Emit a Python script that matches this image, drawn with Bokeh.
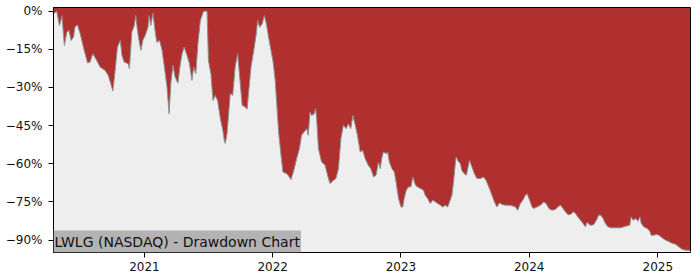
import pandas as pd
from bokeh.plotting import figure
from bokeh.models import FixedTicker, Label, DatetimeTickFormatter, Range1d
from bokeh.embed import file_html
from bokeh.resources import INLINE

dates = [
    "2020-04-17", "2020-04-26", "2020-05-04", "2020-05-08", "2020-05-11", "2020-05-18", "2020-05-25", "2020-05-31",
    "2020-06-06", "2020-06-13", "2020-06-17", "2020-06-24", "2020-07-02", "2020-07-11", "2020-07-23", "2020-07-30",
    "2020-08-07", "2020-08-18", "2020-08-28", "2020-09-11", "2020-09-20", "2020-09-27", "2020-10-03", "2020-10-09",
    "2020-10-16", "2020-10-24", "2020-10-29", "2020-11-04", "2020-11-16", "2020-11-19", "2020-11-26", "2020-12-03",
    "2020-12-07", "2020-12-12", "2020-12-18", "2020-12-22", "2020-12-27", "2021-01-03", "2021-01-11", "2021-01-14",
    "2021-01-19", "2021-01-25", "2021-01-31", "2021-02-05", "2021-02-13", "2021-02-20", "2021-02-26", "2021-03-06",
    "2021-03-12", "2021-03-17", "2021-03-23", "2021-03-29", "2021-04-06", "2021-04-13", "2021-04-18", "2021-04-24",
    "2021-05-02", "2021-05-09", "2021-05-16", "2021-05-21", "2021-05-27", "2021-06-02", "2021-06-09", "2021-06-18",
    "2021-06-28", "2021-07-02", "2021-07-09", "2021-07-15", "2021-07-21", "2021-07-28", "2021-08-05", "2021-08-12",
    "2021-08-16", "2021-08-19", "2021-08-24", "2021-09-02", "2021-09-09", "2021-09-16", "2021-09-23", "2021-09-29",
    "2021-10-06", "2021-10-15", "2021-10-20", "2021-10-24", "2021-10-31", "2021-11-08", "2021-11-15", "2021-11-19",
    "2021-11-25", "2021-12-02", "2021-12-08", "2021-12-14", "2021-12-20", "2021-12-27", "2022-01-02", "2022-01-08",
    "2022-01-13", "2022-01-18", "2022-01-23", "2022-01-30", "2022-02-11", "2022-02-22", "2022-03-02", "2022-03-10",
    "2022-03-18", "2022-03-24", "2022-03-31", "2022-04-08", "2022-04-12", "2022-04-17", "2022-04-22", "2022-04-29",
    "2022-05-03", "2022-05-06", "2022-05-11", "2022-05-20", "2022-05-30", "2022-06-06", "2022-06-13", "2022-06-23",
    "2022-06-30", "2022-07-07", "2022-07-14", "2022-07-21", "2022-07-29", "2022-08-04", "2022-08-11", "2022-08-17",
    "2022-08-24", "2022-08-30", "2022-09-07", "2022-09-14", "2022-09-21", "2022-09-30", "2022-10-07", "2022-10-15",
    "2022-10-22", "2022-10-29", "2022-11-03", "2022-11-07", "2022-11-12", "2022-11-20", "2022-11-24", "2022-11-29",
    "2022-12-06", "2022-12-13", "2022-12-18", "2022-12-25", "2023-01-01", "2023-01-06", "2023-01-10", "2023-01-16",
    "2023-01-22", "2023-01-29", "2023-02-04", "2023-02-11", "2023-02-17", "2023-02-25", "2023-03-06", "2023-03-11",
    "2023-03-18", "2023-03-25", "2023-04-02", "2023-04-09", "2023-04-15", "2023-04-23", "2023-04-30", "2023-05-07",
    "2023-05-14", "2023-05-19", "2023-05-26", "2023-05-31", "2023-06-05", "2023-06-07", "2023-06-14", "2023-06-19",
    "2023-06-23", "2023-06-30", "2023-07-06", "2023-07-10", "2023-07-15", "2023-07-22", "2023-07-29", "2023-08-05",
    "2023-08-15", "2023-08-24", "2023-08-31", "2023-09-08", "2023-09-17", "2023-09-24", "2023-10-01", "2023-10-09",
    "2023-10-15", "2023-10-25", "2023-11-04", "2023-11-13", "2023-11-23", "2023-11-29", "2023-12-07", "2023-12-14",
    "2023-12-21", "2023-12-26", "2024-01-02", "2024-01-09", "2024-01-14", "2024-01-23", "2024-02-02", "2024-02-11",
    "2024-02-18", "2024-02-26", "2024-03-06", "2024-03-16", "2024-03-22", "2024-03-30", "2024-04-06", "2024-04-13",
    "2024-04-20", "2024-04-27", "2024-05-05", "2024-05-12", "2024-05-18", "2024-05-26", "2024-06-02", "2024-06-09",
    "2024-06-14", "2024-06-19", "2024-06-25", "2024-07-03", "2024-07-10", "2024-07-17", "2024-07-22", "2024-07-29",
    "2024-08-05", "2024-08-12", "2024-08-21", "2024-08-29", "2024-09-07", "2024-09-17", "2024-09-26", "2024-10-06",
    "2024-10-13", "2024-10-17", "2024-10-23", "2024-10-30", "2024-11-05", "2024-11-11", "2024-11-15", "2024-11-22",
    "2024-12-02", "2024-12-09", "2024-12-13", "2024-12-21", "2024-12-28", "2025-01-04", "2025-01-13", "2025-01-23",
    "2025-02-01", "2025-02-11", "2025-02-21", "2025-03-02", "2025-03-11", "2025-03-21", "2025-03-31", "2025-04-04",
]

drawdown = [
    -1.0, 0.0, -5.6, -3.7, -1.8, -13.5, -8.2, -7.6,
    -11.5, -10.2, -6.3, -5.3, -8.9, -14.1, -20.4, -20.0,
    -16.7, -19.4, -22.0, -23.3, -25.3, -28.5, -31.4, -23.9,
    -14.1, -11.5, -17.4, -20.0, -20.7, -22.6, -8.2, -5.6,
    -1.7, -7.6, -12.8, -15.4, -11.5, -9.5, -6.3, -1.7,
    -5.6, -0.8, -7.6, -12.2, -11.5, -15.4, -21.3, -29.8,
    -40.3, -28.3, -21.3, -25.9, -28.3, -20.7, -16.7, -14.1,
    -17.4, -20.7, -27.2, -22.0, -24.6, -12.8, -3.7, 0.0,
    0.0, -19.4, -24.6, -35.1, -33.1, -35.1, -42.3, -46.9,
    -50.8, -52.0, -48.0, -32.4, -33.1, -22.0, -16.7, -26.0,
    -37.0, -37.7, -38.5, -32.4, -22.0, -15.4, -9.0, -3.7,
    -6.3, -5.0, -1.7, -5.0, -10.2, -15.4, -20.0, -27.2,
    -37.7, -48.0, -54.7, -63.2, -64.0, -66.2, -62.6, -58.0,
    -54.0, -48.8, -47.5, -46.2, -48.8, -39.7, -41.0, -40.3,
    -38.3, -42.3, -54.0, -59.3, -60.6, -64.5, -67.8, -66.5,
    -65.8, -61.9, -50.1, -44.9, -46.2, -44.3, -46.2, -41.0,
    -44.9, -48.8, -55.4, -54.7, -58.0, -60.6, -61.9, -65.2,
    -64.5, -59.3, -61.9, -58.0, -55.4, -56.0, -55.4, -59.3,
    -61.9, -63.2, -67.2, -73.7, -77.0, -77.0, -73.7, -70.4,
    -69.1, -69.1, -65.2, -68.4, -69.1, -69.7, -70.4, -72.4,
    -73.7, -75.6, -74.3, -75.0, -75.6, -76.3, -77.0, -76.3,
    -77.0, -75.0, -72.4, -66.5, -59.3, -57.3, -59.3, -59.9,
    -62.6, -63.9, -64.5, -61.9, -58.6, -61.3, -63.9, -65.8,
    -65.8, -65.2, -66.5, -69.1, -72.4, -75.0, -77.0, -75.3,
    -76.0, -76.3, -76.3, -76.5, -77.0, -78.3, -75.6, -74.3,
    -72.4, -71.8, -74.3, -77.0, -77.6, -77.0, -76.3, -75.0,
    -75.6, -77.6, -78.3, -77.9, -77.0, -76.3, -77.6, -78.9,
    -80.0, -80.0, -78.9, -79.6, -80.9, -82.2, -83.5, -84.8,
    -82.9, -83.9, -84.2, -83.9, -82.2, -80.2, -80.2, -81.5,
    -83.5, -84.8, -85.2, -85.2, -85.2, -85.2, -84.8, -84.4,
    -84.2, -80.9, -82.2, -81.5, -82.6, -80.9, -83.5, -84.8,
    -85.5, -86.5, -88.1, -88.1, -87.8, -88.1, -89.1, -90.0,
    -90.6, -91.3, -91.7, -92.7, -93.6, -94.0, -94.0, -94.4,
]

y_ticks = [0, -15, -30, -45, -60, -75, -90]
y_tick_labels = ["0%", "\u221215%", "\u221230%", "\u221245%", "\u221260%", "\u221275%", "\u221290%"]
year_ticks = ["2021-01-01", "2022-01-01", "2023-01-01", "2024-01-01", "2025-01-01"]
title = "LWLG (NASDAQ) - Drawdown Chart"

dt = pd.to_datetime(dates)
y_min, y_max = -94.9, 1.45
FONT = "DejaVu Sans"

p = figure(width=700, height=280, x_axis_type="datetime", output_backend="svg",
           toolbar_location=None,
           x_range=Range1d(dt[0].to_pydatetime(), dt[-1].to_pydatetime()),
           y_range=Range1d(y_min, y_max),
           min_border_left=53, min_border_right=10, min_border_top=7, min_border_bottom=28,
           background_fill_color="#b03030", border_fill_color="white")

p.varea(x=dt, y1=drawdown, y2=y_min, fill_color="#eeeeee")
p.line(dt, drawdown, line_color="#8f8f8f", line_width=1)

p.outline_line_color = "black"
p.outline_line_width = 1
p.grid.visible = False

for ax in (p.xaxis[0], p.yaxis[0]):
    ax.axis_line_color = "black"
    ax.major_tick_line_color = "black"
    ax.major_tick_out = 5
    ax.major_tick_in = 0
    ax.minor_tick_out = 0
    ax.minor_tick_in = 0
    ax.major_label_text_font = FONT
    ax.major_label_text_font_size = "12px"
    ax.major_label_text_color = "#111111"

p.yaxis.ticker = FixedTicker(ticks=y_ticks)
p.yaxis.major_label_overrides = {t: l for t, l in zip(y_ticks, y_tick_labels)}
p.yaxis.major_label_standoff = 6

year_ms = [pd.Timestamp(d).value / 1e6 for d in year_ticks]
p.xaxis.ticker = FixedTicker(ticks=year_ms)
p.xaxis.formatter = DatetimeTickFormatter(years="%Y", months="%Y", days="%Y", hours="%Y")
p.xaxis.major_label_standoff = 4

lab = Label(x=dt[0].value / 1e6, y=y_min, text=title, text_font=FONT, text_font_size="14px",
            text_color="#111111", background_fill_color="#b3b3b3", padding=(1, 3),
            anchor="bottom_left")
p.add_layout(lab)

open("out.html", "w").write(file_html(p, INLINE))
